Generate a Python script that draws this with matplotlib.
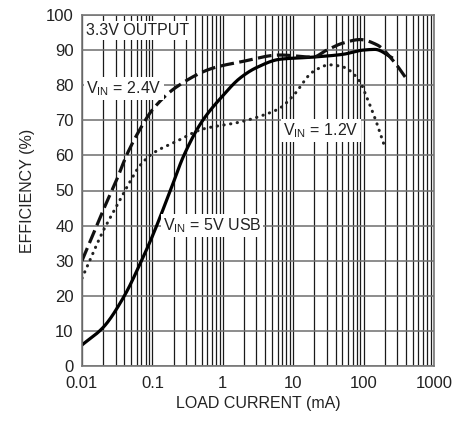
import numpy as np
import matplotlib
matplotlib.use("Agg")
import matplotlib.pyplot as plt
from matplotlib.ticker import FixedLocator, LogLocator, NullFormatter

# data
x_usb = [0.01, 0.02, 0.04, 0.07, 0.1, 0.18, 0.28, 0.5, 1.0, 1.75, 3, 6.5, 19, 51, 98, 145, 260]
y_usb = [6, 11, 20, 30, 37, 50, 60, 69.5, 77, 82, 85, 87.4, 88, 88.8, 90, 90.2, 87.7]

x_24 = [0.01, 0.02, 0.031, 0.044, 0.074, 0.1, 0.22, 0.73, 1.75, 6.5, 19, 30, 51, 89, 155, 263, 417]
y_24 = [30, 44.4, 53, 60.5, 69, 73, 79.5, 84.9, 86.6, 88.6, 88, 90, 92, 93, 91.5, 87, 81.5]

x_12 = [0.01, 0.02, 0.03, 0.045, 0.066, 0.1, 0.22, 0.52, 1.75, 3.8, 6.5, 10, 19, 33, 51, 89, 105, 145, 200]
y_12 = [25, 38.5, 45, 51.5, 57, 60.5, 64, 67.5, 69.5, 71.5, 73.5, 77, 83.8, 85.8, 85.2, 81, 77.7, 70.6, 62.4]

x_ticks = [0.01, 0.1, 1, 10, 100, 1000]
x_ticklabels = ['0.01', '0.1', '1', '10', '100', '1000']
y_ticks = list(range(0, 101, 10))

plt.rcParams['font.family'] = ['Liberation Sans', 'DejaVu Sans']
plt.rcParams['mathtext.fontset'] = 'custom'
plt.rcParams['mathtext.rm'] = 'Liberation Sans'


def pchip(x, y, n=400):
    # monotone cubic through the points, in log10(x)
    h = np.log10(np.asarray(x, float))
    y = np.asarray(y, float)
    d = np.diff(y) / np.diff(h)
    m = np.zeros_like(y)
    for i in range(1, len(y) - 1):
        if d[i - 1] * d[i] > 0:
            w1 = 2 * (h[i + 1] - h[i]) + (h[i] - h[i - 1])
            w2 = (h[i + 1] - h[i]) + 2 * (h[i] - h[i - 1])
            m[i] = (w1 + w2) / (w1 / d[i - 1] + w2 / d[i])
    m[0] = d[0]
    m[-1] = d[-1]
    xs = np.linspace(h[0], h[-1], n)
    idx = np.clip(np.searchsorted(h, xs) - 1, 0, len(h) - 2)
    dx = h[idx + 1] - h[idx]
    t = (xs - h[idx]) / dx
    ys = ((2 * t**3 - 3 * t**2 + 1) * y[idx] + (t**3 - 2 * t**2 + t) * dx * m[idx]
          + (-2 * t**3 + 3 * t**2) * y[idx + 1] + (t**3 - t**2) * dx * m[idx + 1])
    return 10 ** xs, ys


fig = plt.figure(figsize=(4.71, 4.22), dpi=100)
ax = fig.add_axes([82 / 471, 1 - 366 / 422, (434 - 82) / 471, (366 - 15) / 422])

ax.set_xscale('log')
ax.set_xlim(0.01, 1000)
ax.set_ylim(0, 100)

ax.xaxis.set_major_locator(FixedLocator(x_ticks))
ax.set_xticklabels(x_ticklabels)
ax.xaxis.set_minor_locator(LogLocator(base=10, subs=np.arange(2, 10)))
ax.xaxis.set_minor_formatter(NullFormatter())
ax.set_yticks(y_ticks)

ax.grid(True, which='both', axis='x', color='#1a1a1a', linewidth=0.9)
ax.grid(True, which='major', axis='y', color='#6e6e6e', linewidth=1.1)
ax.tick_params(which='both', length=0, labelsize=12, colors='#222222')
ax.tick_params(axis='x', pad=7)
ax.tick_params(axis='y', pad=6)
for s in ax.spines.values():
    s.set_color('#777777')
    s.set_linewidth(1.2)

xs, ys = pchip(x_usb, y_usb)
ax.plot(xs, ys, color='black', lw=2.3, solid_capstyle='butt')
xs, ys = pchip(x_24, y_24)
ax.plot(xs, ys, color='#111111', lw=2.3, dashes=(4.3, 1.7))
xs, ys = pchip(x_12, y_12)
ax.plot(xs, ys, color='#222222', lw=2.2, linestyle=(0, (0.1, 2.1)), dash_capstyle='round')

box = dict(facecolor='white', edgecolor='none', pad=1.5)
ax.text(0.0115, 95.5, '3.3V OUTPUT', fontsize=11.5, va='center', ha='left', bbox=box, color='#222222')
ax.text(0.0115, 79, r'V$_{\mathrm{IN}}$ = 2.4V', fontsize=11.5, va='center', ha='left', bbox=box, color='#222222')
ax.text(7.2, 67, r'V$_{\mathrm{IN}}$ = 1.2V', fontsize=11.5, va='center', ha='left', bbox=box, color='#222222')
ax.text(0.14, 40, r'V$_{\mathrm{IN}}$ = 5V USB', fontsize=11.5, va='center', ha='left', bbox=box, color='#222222')

ax.set_xlabel('LOAD CURRENT (mA)', fontsize=11.5, color='#222222', labelpad=4)
ax.set_ylabel('EFFICIENCY (%)', fontsize=11.5, color='#222222', labelpad=8)

fig.savefig('out.png', dpi=100)
